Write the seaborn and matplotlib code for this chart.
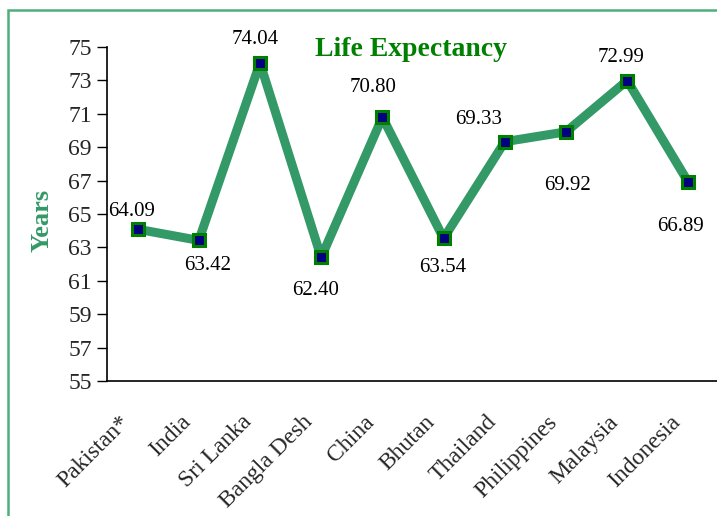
import matplotlib
matplotlib.use("Agg")
import matplotlib.pyplot as plt
import matplotlib.patches as mpatches
import seaborn as sns
import pandas as pd

countries = ["Pakistan*", "India", "Sri Lanka", "Bangla Desh", "China",
             "Bhutan", "Thailand", "Philippines", "Malaysia", "Indonesia"]
life_exp = [64.09, 63.42, 74.04, 62.40, 70.80, 63.54, 69.33, 69.92, 72.99, 66.89]
y_ticks = [55, 57, 59, 61, 63, 65, 67, 69, 71, 73, 75]

# label offsets in pixels (dx, dy up)
label_offsets = [(-6, 18), (9, -25), (-5, 24), (-6, -33), (-9, 30),
                 (-1, -29), (-26, 22), (1, -54), (-6, 23), (-8, -44)]

sns.set_theme(style="white")
plt.rcParams["font.family"] = ["Liberation Serif", "DejaVu Serif"]

W, H = 717, 516
fig = plt.figure(figsize=(W / 100, H / 100), dpi=100)
L, R, T, B = 107, 719, 47, 381
ax = fig.add_axes([L / W, 1 - B / H, (R - L) / W, (B - T) / H])

df = pd.DataFrame({"country": countries, "value": life_exp})
df["pos"] = range(len(df))
sns.lineplot(data=df, x="pos", y="value", ax=ax, color="#339966", lw=6.5,
             marker="s", markersize=8, markerfacecolor="#000080",
             markeredgecolor="#008000", markeredgewidth=2.2, sort=False)

for i, (v, (dx, dy)) in enumerate(zip(life_exp, label_offsets)):
    ax.annotate(f"{v:.2f}", (i, v), xytext=(dx, dy), textcoords="offset pixels",
                ha="center", va="center", fontsize=15, color="black")

ax.set_xlim(-0.5, len(countries) - 0.5)
ax.set_ylim(55, 75)
ax.set_yticks(y_ticks)
ax.set_yticklabels([str(t) for t in y_ticks], fontsize=17)
ax.set_xticks([i + 0.5 for i in range(-1, len(countries))], minor=False)
ax.set_xticklabels([])
ax.set_xticks(range(len(countries)), minor=True)
ax.set_xticklabels(countries, minor=True, rotation=45, ha="right",
                   rotation_mode="anchor", fontsize=17)
ax.tick_params(axis="x", which="minor", length=0, pad=22)
ax.tick_params(axis="x", which="major", length=7, width=1, color="black", direction="out")
ax.tick_params(axis="y", length=7, width=1, color="black", direction="out", left=True, pad=4)
for lbl in ax.get_xticklabels(minor=True):
    lbl.set_transform(lbl.get_transform() +
                      matplotlib.transforms.ScaledTranslation(-19 / 100, 0, fig.dpi_scale_trans))

for s in ["top", "right"]:
    ax.spines[s].set_visible(False)
for s in ["left", "bottom"]:
    ax.spines[s].set_color("black")
    ax.spines[s].set_linewidth(1.2)
ax.set_xlabel("")
ax.set_ylabel("")
ax.grid(False)
ax.set_facecolor("none")

fig.text(411 / W, 1 - 49 / H, "Life Expectancy", ha="center", va="center",
         fontsize=20, fontweight="bold", color="#008000")
fig.text(42 / W, 1 - 220 / H, "Years", ha="center", va="center", rotation=90,
         fontsize=19, fontweight="bold", color="#339966")

frame = mpatches.Rectangle((8 / W, -0.1), 1.2, 1 - 10 / H + 0.1, transform=fig.transFigure,
                           fill=False, edgecolor="#4DAF7C", lw=1.8)
fig.patches.append(frame)

fig.savefig("out.png", dpi=100)
